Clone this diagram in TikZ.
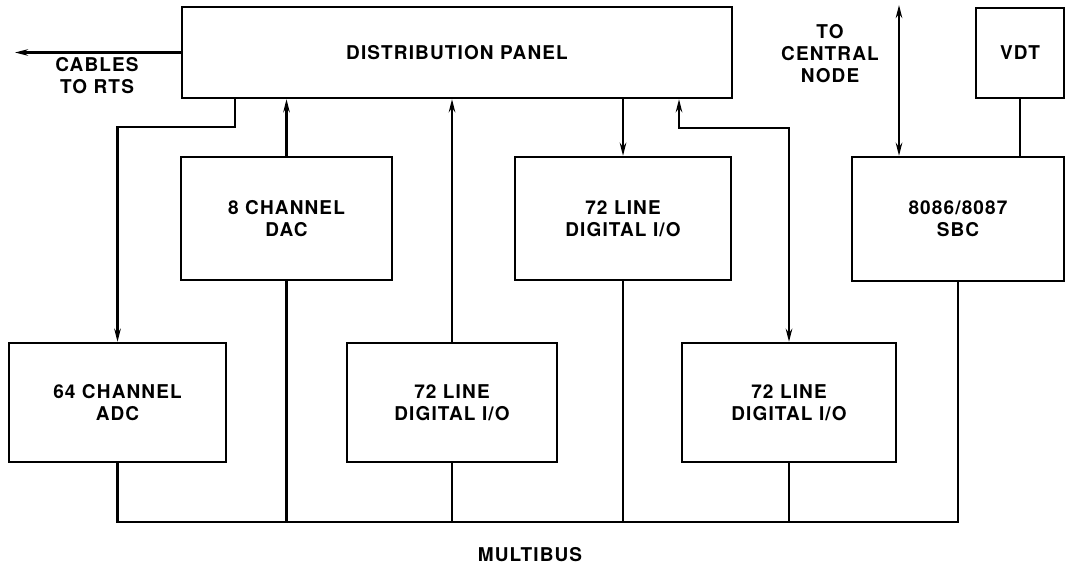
\documentclass[tikz,border=0pt]{standalone}
\usepackage{fontspec}
\setmainfont{TeX Gyre Heros}[LetterSpace=6.0]
\usetikzlibrary{arrows.meta}
\begin{document}
\begin{tikzpicture}[x=1pt,y=-1pt,
  line width=2.4pt,
  every node/.style={font=\fontsize{19}{22}\selectfont\bfseries},
  blk/.style={draw,rectangle,inner sep=0pt,align=center},
  arr/.style={-{Stealth[length=13pt,width=6.5pt]}},
  arrb/.style={{Stealth[length=13pt,width=6.5pt]}-{Stealth[length=13pt,width=6.5pt]}},
  lbl/.style={align=center,inner sep=0pt}]
\useasboundingbox (0,0) rectangle (1068,565);
% boxes
\node[blk,minimum width=550pt,minimum height=91pt] (panel) at (457,52.5) {DISTRIBUTION PANEL};
\node[blk,minimum width=211pt,minimum height=123pt] (dac) at (286.5,218.5) {8 CHANNEL\\DAC};
\node[blk,minimum width=216pt,minimum height=123pt] (dio1) at (623,218.5) {72 LINE\\DIGITAL I/O};
\node[blk,minimum width=212pt,minimum height=124pt] (sbc) at (958,219) {8086/8087\\SBC};
\node[blk,minimum width=88pt,minimum height=90pt] (vdt) at (1020,53) {VDT};
\node[blk,minimum width=217pt,minimum height=119pt] (adc) at (117.5,402.5) {64 CHANNEL\\ADC};
\node[blk,minimum width=210pt,minimum height=119pt] (dio2) at (452,402.5) {72 LINE\\DIGITAL I/O};
\node[blk,minimum width=214pt,minimum height=119pt] (dio3) at (789,402.5) {72 LINE\\DIGITAL I/O};
% labels
\node[lbl] (cab) at (97,76) {CABLES\\TO RTS};
\node[lbl] (cen) at (830,54) {TO\\CENTRAL\\NODE};
\node[lbl] (mb) at (530,555) {MULTIBUS};
% helper coordinates
\coordinate (cabend) at (15,51);
\coordinate (j1) at (235,127);
\coordinate (j2) at (679,128);
\coordinate (ctop) at (899,5);
\coordinate (busR) at (958,522);
% connectors
\draw[arr] (panel.west) -- (panel.west -| cabend);
\draw[arr] (panel.south -| j1) -- (j1) -| (adc.north);
\draw[arr] (dac.north) -- (dac.north |- panel.south);
\draw[arr] (dio2.north) -- (dio2.north |- panel.south);
\draw[arr] (dio1.north |- panel.south) -- (dio1.north);
\draw[arrb] (dio3.north) |- (j2) -- (j2 |- panel.south);
\draw[arrb] (sbc.north -| ctop) -- (ctop);
\draw (vdt.south) -- (vdt.south |- sbc.north);
% multibus
\draw (adc.south) |- (busR) -- (sbc.south);
\draw (dac.south) -- (dac.south |- busR);
\draw (dio2.south) -- (dio2.south |- busR);
\draw (dio1.south) -- (dio1.south |- busR);
\draw (dio3.south) -- (dio3.south |- busR);
\end{tikzpicture}
\end{document}
